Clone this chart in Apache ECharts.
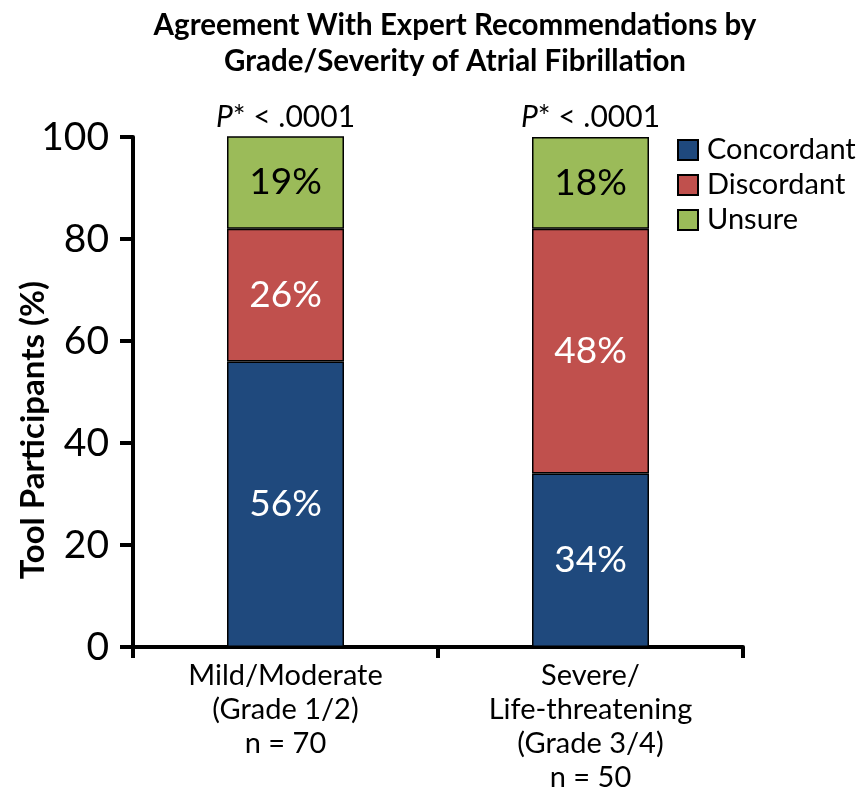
<!DOCTYPE html>
<html>
<head>
<meta charset="utf-8">
<script src="https://cdn.jsdelivr.net/npm/echarts@6/dist/echarts.min.js"></script>
<style>
  html, body { margin: 0; padding: 0; background: #ffffff; }
  #chart { width: 862px; height: 789px; }
</style>
</head>
<body>
<div id="chart"></div>
<script>
// Grade groups and their sample sizes
const categories = ['Mild/Moderate\n(Grade 1/2)\nn = 70', 'Severe/\nLife-threatening\n(Grade 3/4)\nn = 50'];
const pValues = ['< .0001', '< .0001'];

// Share of participants (%) per response type
const concordant = [56, 34];
const discordant = [26, 48];
const unsure = [19, 18];

const yTicks = { min: 0, max: 100, interval: 20 };

const FONT = 'Lato';
const colors = { Concordant: '#1f497d', Discordant: '#c0504d', Unsure: '#9bbb59' };

function stackSeries(name, values, textColor) {
  return {
    name: name,
    type: 'bar',
    stack: 'total',
    barWidth: 117,
    data: values,
    itemStyle: { color: colors[name], borderColor: '#000', borderWidth: 1.5 },
    label: {
      show: true,
      position: 'inside',
      formatter: p => p.value + '%',
      color: textColor,
      fontFamily: FONT,
      fontSize: 37
    }
  };
}

const chart = echarts.init(document.getElementById('chart'), null, { renderer: 'canvas' });

chart.setOption({
  animation: false,
  textStyle: { fontFamily: FONT },
  title: {
    text: 'Agreement With Expert Recommendations by\nGrade/Severity of Atrial Fibrillation',
    left: 450,
    textAlign: 'center',
    top: 2,
    textStyle: { fontFamily: FONT, fontWeight: 'bold', fontSize: 29.5, lineHeight: 36, color: '#000' }
  },
  legend: {
    orient: 'vertical',
    left: 677,
    top: 135,
    padding: 0,
    itemWidth: 20,
    itemHeight: 20,
    itemGap: 5,
    icon: 'rect',
    data: ['Concordant', 'Discordant', 'Unsure'],
    textStyle: { fontFamily: FONT, fontSize: 29, lineHeight: 30, color: '#000', padding: [0, 0, 0, 4] }
  },
  grid: { left: 133, right: 119, top: 137, bottom: 142, outerBoundsMode: 'none', containLabel: false },
  xAxis: [
    {
      type: 'category',
      data: categories,
      axisLine: { lineStyle: { color: '#000', width: 4 } },
      axisTick: { show: true, length: 11, lineStyle: { color: '#000', width: 4 } },
      axisLabel: {
        color: '#000', fontFamily: FONT, fontSize: 29, lineHeight: 34, margin: 12, interval: 0
      }
    },
    {
      type: 'category',
      position: 'top',
      data: pValues,
      axisLine: { show: false },
      axisTick: { show: false },
      axisLabel: {
        margin: 5,
        interval: 0,
        formatter: v => '{p|P}{s|* ' + v + '}',
        rich: {
          p: { fontFamily: FONT, fontSize: 30, fontStyle: 'italic', color: '#000' },
          s: { fontFamily: FONT, fontSize: 30, color: '#000' }
        }
      }
    }
  ],
  yAxis: {
    type: 'value',
    min: yTicks.min,
    max: yTicks.max,
    interval: yTicks.interval,
    name: 'Tool Participants (%)',
    nameLocation: 'middle',
    nameGap: 83,
    nameMoveOverlap: false,
    nameTextStyle: {
      fontFamily: FONT, fontWeight: 'bold', fontSize: 33, color: '#000',
      padding: [0, 76, 0, 0]
    },
    axisLine: { show: true, lineStyle: { color: '#000', width: 4 } },
    axisTick: { show: true, length: 13, lineStyle: { color: '#000', width: 4 } },
    axisLabel: { color: '#000', fontFamily: FONT, fontSize: 39, margin: 24 },
    splitLine: { show: false }
  },
  series: [
    stackSeries('Concordant', concordant, '#fff'),
    stackSeries('Discordant', discordant, '#fff'),
    stackSeries('Unsure', unsure, '#000')
  ]
});
</script>
</body>
</html>
